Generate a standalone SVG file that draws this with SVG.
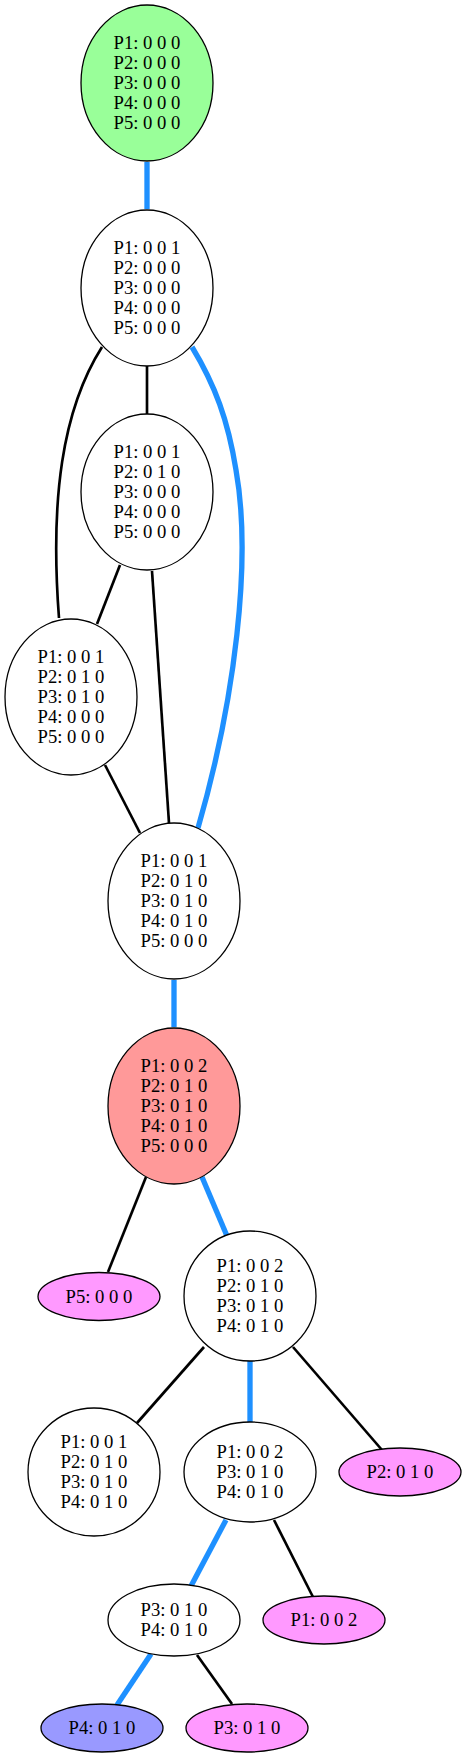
<svg xmlns="http://www.w3.org/2000/svg" width="467" height="1758" viewBox="0 0 467 1758">
<style>
.n ellipse{stroke:#000;stroke-width:1.3}
.n text{font-family:"Liberation Serif","Times New Roman",serif;font-size:18.67px;text-anchor:middle;fill:#000}
.e path{fill:none}
.k{stroke:#000;stroke-width:2.67}
.b{stroke:#1e90ff;stroke-width:5.33}
.w{fill:#fff}.g{fill:#99ff99}.r{fill:#ff9999}.p{fill:#ff99ff}.v{fill:#9999ff}
</style>
<rect width="467" height="1758" fill="#fff"/>
<g id="edges" class="e">
<path class="b" d="M147,162 L147,209"/>
<path class="k" d="M147,366 L147,414"/>
<path class="k" d="M102,347 C62,410 50,500 59,618"/>
<path class="b" d="M192,347 C215,385 228,420 236,470 C252,560 235,700 198,828"/>
<path class="k" d="M120,565 L97,624"/>
<path class="k" d="M152,571 L169,823"/>
<path class="k" d="M105,765 L140,833"/>
<path class="b" d="M174,980 L174,1027"/>
<path class="k" d="M146,1177 L108,1272"/>
<path class="b" d="M202,1177 L227,1236"/>
<path class="k" d="M204,1347 L137,1423"/>
<path class="b" d="M250,1361 L250,1423"/>
<path class="k" d="M293,1347 L382,1450"/>
<path class="b" d="M226,1520 L191,1586"/>
<path class="k" d="M274,1520 L313,1597"/>
<path class="b" d="M151,1654 L117,1705"/>
<path class="k" d="M197,1655 L232,1704"/>
</g>
<g id="n0" class="n"><ellipse class="g" cx="147" cy="83" rx="66" ry="78"/>
<text x="147" y="49">P1: 0 0 0</text><text x="147" y="69">P2: 0 0 0</text><text x="147" y="89">P3: 0 0 0</text><text x="147" y="109">P4: 0 0 0</text><text x="147" y="129">P5: 0 0 0</text></g>
<g id="n1" class="n"><ellipse class="w" cx="147" cy="288" rx="66" ry="78"/>
<text x="147" y="254">P1: 0 0 1</text><text x="147" y="274">P2: 0 0 0</text><text x="147" y="294">P3: 0 0 0</text><text x="147" y="314">P4: 0 0 0</text><text x="147" y="334">P5: 0 0 0</text></g>
<g id="n2" class="n"><ellipse class="w" cx="147" cy="492" rx="66" ry="78"/>
<text x="147" y="458">P1: 0 0 1</text><text x="147" y="478">P2: 0 1 0</text><text x="147" y="498">P3: 0 0 0</text><text x="147" y="518">P4: 0 0 0</text><text x="147" y="538">P5: 0 0 0</text></g>
<g id="n3" class="n"><ellipse class="w" cx="71" cy="697" rx="66" ry="78"/>
<text x="71" y="663">P1: 0 0 1</text><text x="71" y="683">P2: 0 1 0</text><text x="71" y="703">P3: 0 1 0</text><text x="71" y="723">P4: 0 0 0</text><text x="71" y="743">P5: 0 0 0</text></g>
<g id="n4" class="n"><ellipse class="w" cx="174" cy="901" rx="66" ry="78"/>
<text x="174" y="867">P1: 0 0 1</text><text x="174" y="887">P2: 0 1 0</text><text x="174" y="907">P3: 0 1 0</text><text x="174" y="927">P4: 0 1 0</text><text x="174" y="947">P5: 0 0 0</text></g>
<g id="n5" class="n"><ellipse class="r" cx="174" cy="1106" rx="66" ry="78"/>
<text x="174" y="1072">P1: 0 0 2</text><text x="174" y="1092">P2: 0 1 0</text><text x="174" y="1112">P3: 0 1 0</text><text x="174" y="1132">P4: 0 1 0</text><text x="174" y="1152">P5: 0 0 0</text></g>
<g id="n6" class="n"><ellipse class="p" cx="99" cy="1296.5" rx="61" ry="24"/>
<text x="99" y="1302.5">P5: 0 0 0</text></g>
<g id="n7" class="n"><ellipse class="w" cx="250" cy="1296" rx="66" ry="65"/>
<text x="250" y="1272">P1: 0 0 2</text><text x="250" y="1292">P2: 0 1 0</text><text x="250" y="1312">P3: 0 1 0</text><text x="250" y="1332">P4: 0 1 0</text></g>
<g id="n8" class="n"><ellipse class="w" cx="94" cy="1472" rx="66" ry="64"/>
<text x="94" y="1448">P1: 0 0 1</text><text x="94" y="1468">P2: 0 1 0</text><text x="94" y="1488">P3: 0 1 0</text><text x="94" y="1508">P4: 0 1 0</text></g>
<g id="n9" class="n"><ellipse class="w" cx="250" cy="1472" rx="66" ry="50"/>
<text x="250" y="1458">P1: 0 0 2</text><text x="250" y="1478">P3: 0 1 0</text><text x="250" y="1498">P4: 0 1 0</text></g>
<g id="n10" class="n"><ellipse class="p" cx="400" cy="1472" rx="61" ry="24"/>
<text x="400" y="1478">P2: 0 1 0</text></g>
<g id="n11" class="n"><ellipse class="w" cx="174" cy="1620" rx="66" ry="36"/>
<text x="174" y="1616">P3: 0 1 0</text><text x="174" y="1636">P4: 0 1 0</text></g>
<g id="n12" class="n"><ellipse class="p" cx="324" cy="1620" rx="61" ry="24"/>
<text x="324" y="1626">P1: 0 0 2</text></g>
<g id="n13" class="n"><ellipse class="v" cx="102" cy="1728" rx="61" ry="24"/>
<text x="102" y="1734">P4: 0 1 0</text></g>
<g id="n14" class="n"><ellipse class="p" cx="247" cy="1728" rx="61" ry="24"/>
<text x="247" y="1734">P3: 0 1 0</text></g>
</svg>
